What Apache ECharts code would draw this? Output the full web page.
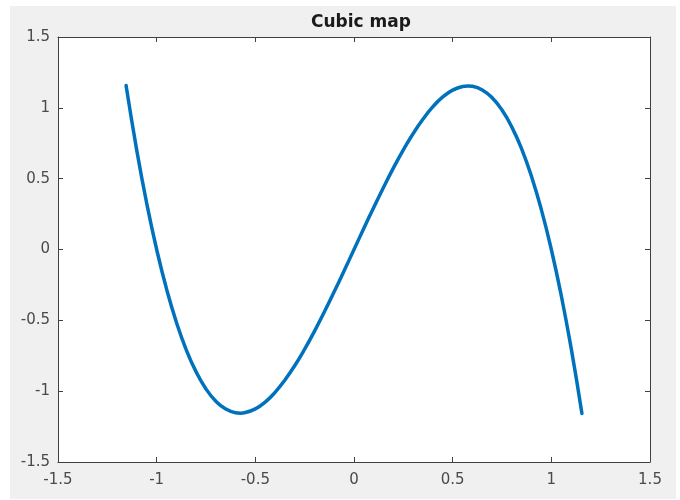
<!DOCTYPE html>
<html>
<head>
<meta charset="utf-8">
<script src="https://cdn.jsdelivr.net/npm/echarts@6/dist/echarts.min.js"></script>
<style>
html,body{margin:0;padding:0;background:#fff;}
#c{width:680px;height:500px;}
</style>
</head>
<body>
<div id="c"></div>
<script>
var titleText = 'Cubic map';
var xTicks = [-1.5, -1, -0.5, 0, 0.5, 1, 1.5];
var yTicks = [-1.5, -1, -0.5, 0, 0.5, 1, 1.5];
var xValues = [-1.155, -1.1, -1.05, -1.0, -0.95, -0.9, -0.85, -0.8, -0.75, -0.7, -0.65, -0.6, -0.577, -0.55, -0.5, -0.45, -0.4, -0.35, -0.3, -0.25, -0.2, -0.15, -0.1, -0.05, 0,
               0.05, 0.1, 0.15, 0.2, 0.25, 0.3, 0.35, 0.4, 0.45, 0.5, 0.55, 0.577, 0.6, 0.65, 0.7, 0.75, 0.8, 0.85, 0.9, 0.95, 1.0, 1.05, 1.1, 1.155];
var yValues = [1.157, 0.693, 0.323, 0, -0.278, -0.513, -0.708, -0.864, -0.984, -1.071, -1.126, -1.152, -1.155, -1.151, -1.125, -1.077, -1.008, -0.921, -0.819, -0.703, -0.576, -0.440, -0.297, -0.150, 0,
               0.150, 0.297, 0.440, 0.576, 0.703, 0.819, 0.921, 1.008, 1.077, 1.125, 1.151, 1.155, 1.152, 1.126, 1.071, 0.984, 0.864, 0.708, 0.513, 0.278, 0, -0.323, -0.693, -1.157];

var data = xValues.map(function (x, i) { return [x, yValues[i]]; });
var axisColor = '#404040';
var labelColor = '#4a4a4a';
var fontFam = '"DejaVu Sans", sans-serif';

function fmt(v) { return String(v); }

var chart = echarts.init(document.getElementById('c'), null, {renderer: 'canvas'});
var baseX = {
  type: 'value', min: xTicks[0], max: xTicks[xTicks.length - 1], interval: 0.5,
  axisLine: {show: true, onZero: false, lineStyle: {color: axisColor, width: 1}},
  axisTick: {show: true, inside: true, length: 5, lineStyle: {color: axisColor}},
  splitLine: {show: false}
};
var baseY = {
  type: 'value', min: yTicks[0], max: yTicks[yTicks.length - 1], interval: 0.5,
  axisLine: {show: true, onZero: false, lineStyle: {color: axisColor, width: 1}},
  axisTick: {show: true, inside: true, length: 5, lineStyle: {color: axisColor}},
  splitLine: {show: false}
};
chart.setOption({
  backgroundColor: 'transparent',
  animation: false,
  graphic: [{
    type: 'rect', left: 10, top: 6, z: -10,
    shape: {width: 666, height: 493},
    style: {fill: '#f0f0f0'}
  }],
  title: {
    text: titleText, left: 356, top: 9, textAlign: 'center',
    textStyle: {fontFamily: fontFam, fontSize: 17, fontWeight: 'bold', color: '#1a1a1a'}
  },
  grid: {left: 58, top: 37, right: 30, bottom: 38, show: true, backgroundColor: '#fff', borderWidth: 0},
  xAxis: [
    Object.assign({}, baseX, {position: 'bottom',
      axisLabel: {show: true, margin: 11, color: labelColor, fontSize: 15, fontFamily: fontFam, formatter: fmt}}),
    Object.assign({}, baseX, {position: 'top', axisLabel: {show: false}})
  ],
  yAxis: [
    Object.assign({}, baseY, {position: 'left',
      axisLabel: {show: true, margin: 8, color: labelColor, fontSize: 15, fontFamily: fontFam, formatter: fmt}}),
    Object.assign({}, baseY, {position: 'right', axisLabel: {show: false}})
  ],
  series: [{
    type: 'line', data: data, smooth: true, showSymbol: false, symbol: 'none',
    xAxisIndex: 0, yAxisIndex: 0,
    lineStyle: {color: '#0072BD', width: 3.5, cap: 'round'}
  }]
});
</script>
</body>
</html>
